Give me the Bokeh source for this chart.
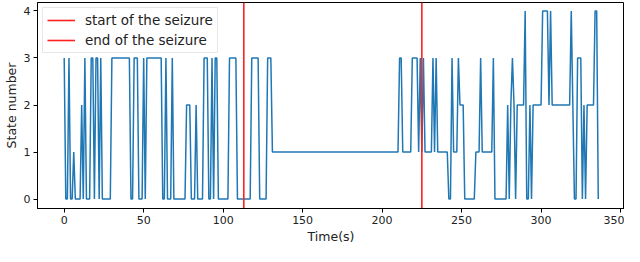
from bokeh.plotting import figure
from bokeh.models import Range1d, FixedTicker, Legend, LegendItem
from bokeh.embed import file_html
from bokeh.resources import INLINE

# vertices of the state sequence (time in s, state number)
times = [0, 1, 2, 3, 4, 5, 6, 7, 10, 11, 12, 13, 14, 16, 17, 18, 19, 20, 21, 22, 23, 24,
         29, 30, 41, 42, 43, 44, 46, 47, 49, 50, 51, 52, 61, 62, 63, 64, 65, 67, 68, 69,
         76, 77, 79, 80, 82, 83, 84, 87, 88, 90, 91, 92, 93, 94, 95, 96, 97, 103, 104,
         108, 109, 117, 118, 122, 123, 127, 128, 130, 131,
         210, 211, 212, 213, 218, 219, 222, 223, 224, 225, 226, 227, 231, 232, 233, 234,
         235, 240, 241, 242, 243, 244, 245, 247, 248, 249, 251, 252, 258, 259, 261, 262,
         263, 269, 270, 271, 278, 279, 280, 281, 282, 283, 284, 285, 289, 290, 291, 292,
         293, 294, 295, 300, 301, 304, 305, 306, 307, 318, 319, 320, 321, 322, 323, 325,
         326, 327, 328, 329, 333, 334, 335, 336]
states = [3, 0, 0, 3, 0, 0, 1, 0, 0, 2, 0, 3, 0, 0, 3, 3, 0, 3, 3, 0, 3, 0,
          0, 3, 3, 0, 0, 3, 3, 0, 0, 3, 0, 3, 3, 0, 0, 3, 0, 0, 3, 0,
          0, 2, 2, 0, 0, 2, 0, 0, 3, 3, 0, 0, 3, 0, 3, 3, 0, 0, 3,
          3, 0, 0, 3, 3, 0, 0, 3, 3, 1,
          1, 3, 3, 1, 1, 3, 3, 1, 3, 1, 3, 1, 1, 3, 1, 3,
          1, 1, 1, 0, 0, 3, 1, 1, 3, 2, 2, 0, 0, 1, 1, 3,
          1, 1, 3, 0, 0, 2, 0, 2, 3, 2, 0, 2, 2, 4, 0, 0,
          2, 0, 2, 2, 4, 4, 2, 4, 2, 2, 4, 2, 0, 0, 3, 3,
          0, 2, 0, 2, 2, 4, 4, 0]

seizure_start = 113
seizure_end = 225
x_ticks = [0, 50, 100, 150, 200, 250, 300, 350]
y_ticks = [0, 1, 2, 3, 4]
y_lo, y_hi = -0.2, 4.18

FONT = "DejaVu Sans"

p = figure(width=624, height=246, output_backend="svg", toolbar_location=None,
           x_range=Range1d(-16.8, 352.5), y_range=Range1d(y_lo, y_hi),
           min_border_left=32, min_border_right=0, min_border_top=2, min_border_bottom=30)

p.xgrid.visible = False
p.ygrid.visible = False
p.outline_line_color = "black"
p.outline_line_width = 1
p.background_fill_color = "white"
p.border_fill_color = "white"

state_r = p.line(times, states, line_color="#1f77b4", line_width=1.5)
start_r = p.line([seizure_start, seizure_start], [y_lo, y_hi], line_color="#ff2020", line_width=1.6)
end_r = p.line([seizure_end, seizure_end], [y_lo, y_hi], line_color="#ff2020", line_width=1.6)

for ax, ticks in ((p.xaxis, x_ticks), (p.yaxis, y_ticks)):
    ax.ticker = FixedTicker(ticks=ticks)
    ax.minor_tick_line_color = None
    ax.major_tick_in = 0
    ax.major_tick_out = 4
    ax.axis_line_color = "black"
    ax.major_tick_line_color = "black"
    ax.major_label_text_font = FONT
    ax.major_label_text_font_size = "11px"
    ax.major_label_text_color = "#222222"
    ax.axis_label_text_font = FONT
    ax.axis_label_text_font_size = "12.5px"
    ax.axis_label_text_font_style = "normal"
    ax.axis_label_text_color = "#222222"
    ax.major_label_standoff = 3
    ax.axis_label_standoff = 2

p.xaxis.axis_label = "Time(s)"
p.yaxis.axis_label = "State number"

legend = Legend(items=[LegendItem(label="start of the seizure", renderers=[start_r]),
                       LegendItem(label="end of the seizure", renderers=[end_r])],
                location="top_left")
legend.label_text_font = FONT
legend.label_text_font_size = "13.5px"
legend.label_text_color = "#222222"
legend.glyph_width = 28
legend.glyph_height = 16
legend.label_standoff = 10
legend.spacing = 4
legend.padding = 4
legend.margin = 5
legend.border_line_color = "#d0d0d0"
legend.background_fill_alpha = 0.8
legend.label_height = 16
p.add_layout(legend)

open("out.html", "w").write(file_html(p, INLINE))
